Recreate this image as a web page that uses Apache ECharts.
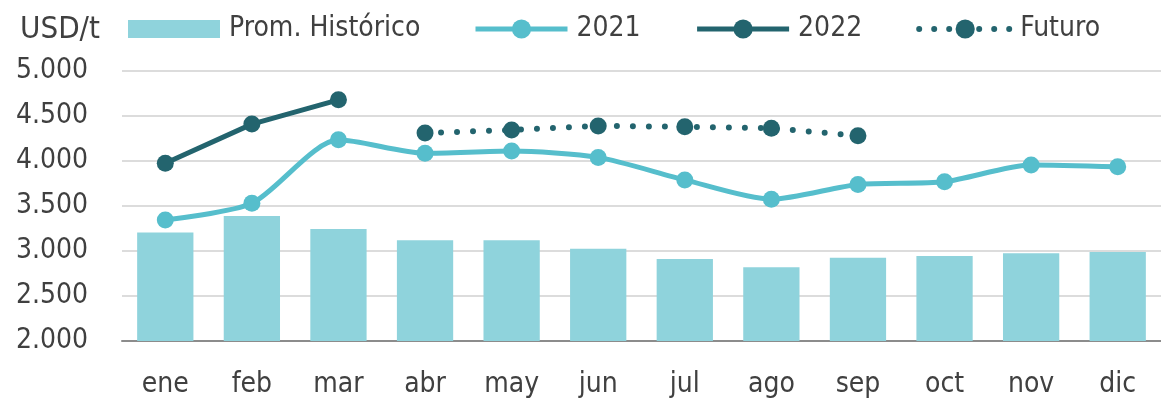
<!DOCTYPE html>
<html>
<head>
<meta charset="utf-8">
<script src="https://cdn.jsdelivr.net/npm/echarts@6/dist/echarts.min.js"></script>
<style>
html,body{margin:0;padding:0;background:#fff;}
#c{width:1161px;height:400px;}
</style>
</head>
<body>
<div id="c"></div>
<script>
var categories = ['ene','feb','mar','abr','may','jun','jul','ago','sep','oct','nov','dic'];
var promHistorico = [3205, 3390, 3245, 3120, 3120, 3025, 2910, 2820, 2925, 2945, 2975, 2990];
var y2021 = [3345, 3530, 4235, 4085, 4110, 4040, 3790, 3575, 3740, 3770, 3955, 3935];
var y2022 = [3975, 4410, 4680, null, null, null, null, null, null, null, null, null];
var futuro = [null, null, null, 4310, 4345, 4390, 4380, 4365, 4280, null, null, null];
var yTicks = {min: 2000, max: 5000, interval: 500};

var FONT = "'Liberation Sans Narrow','DejaVu Sans Condensed','Roboto',sans-serif";
var TXT = '#404040';
var cBar = '#8fd3dc', c21 = '#56becc', c22 = '#23646e';
var legendText = {fontFamily: FONT, fontSize: 28, color: TXT, padding: [0, 0, 0, 4]};

var chart = echarts.init(document.getElementById('c'), null, {renderer: 'canvas'});
chart.setOption({
  animation: false,
  title: {
    text: 'USD/t', left: 15, top: 9,
    textStyle: {fontFamily: FONT, fontSize: 31, fontWeight: 'normal', color: TXT}
  },
  legend: [
    {
      left: 123, top: 10,
      itemWidth: 92, itemHeight: 18, itemGap: 52,
      textStyle: legendText,
      data: [{name: 'Prom. Histórico', icon: 'rect'}]
    },
    {
      left: 468, top: 10,
      itemWidth: 92, itemHeight: 24, itemGap: 54,
      textStyle: legendText,
      data: [
        {name: '2021', lineStyle: {width: 5, color: c21}},
        {name: '2022', lineStyle: {width: 5, color: c22}},
        {name: 'Futuro', lineStyle: {width: 6, color: c22, type: [0, 15], cap: 'round'}}
      ]
    }
  ],
  grid: {left: 122, right: 0, top: 71, bottom: 59, containLabel: false},
  xAxis: {
    type: 'category', data: categories, boundaryGap: true,
    axisLine: {lineStyle: {color: '#8c8c8c', width: 2}},
    axisTick: {show: false},
    axisLabel: {fontFamily: FONT, fontSize: 28, color: TXT, margin: 30}
  },
  yAxis: {
    type: 'value', min: yTicks.min, max: yTicks.max, interval: yTicks.interval,
    axisLine: {show: false}, axisTick: {show: false},
    splitLine: {lineStyle: {color: '#dcdcdc', width: 2}},
    axisLabel: {
      fontFamily: FONT, fontSize: 28, color: TXT, margin: 34,
      formatter: function (v) { return v.toString().replace(/\B(?=(\d{3})+(?!\d))/g, '.'); }
    }
  },
  series: [
    {
      name: 'Prom. Histórico', type: 'bar', data: promHistorico,
      barWidth: '65%', itemStyle: {color: cBar}, z: 1
    },
    {
      name: '2021', type: 'line', data: y2021, smooth: 0.25,
      symbol: 'circle', symbolSize: 17,
      lineStyle: {color: c21, width: 5}, itemStyle: {color: c21}, z: 3
    },
    {
      name: '2022', type: 'line', data: y2022,
      symbol: 'circle', symbolSize: 17,
      lineStyle: {color: c22, width: 5}, itemStyle: {color: c22}, z: 4
    },
    {
      name: 'Futuro', type: 'line', data: futuro,
      symbol: 'circle', symbolSize: 17,
      lineStyle: {color: c22, width: 6, type: [0, 16], cap: 'round'},
      itemStyle: {color: c22}, z: 4
    }
  ]
});
</script>
</body>
</html>
